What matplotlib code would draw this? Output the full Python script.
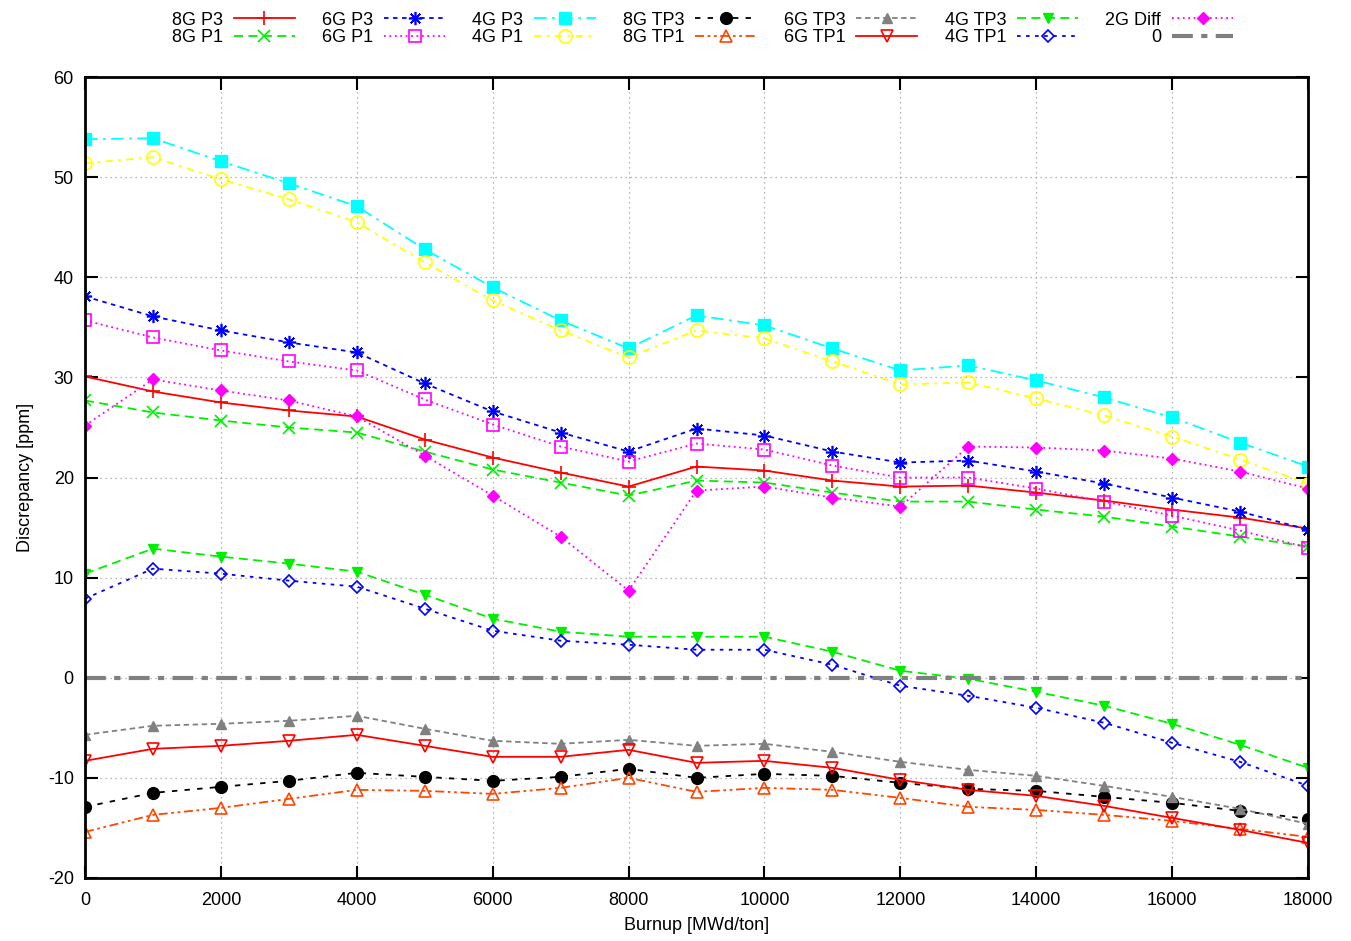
import matplotlib
matplotlib.use('Agg')
import matplotlib.pyplot as plt

plt.rcParams['font.family'] = ['Liberation Sans', 'DejaVu Sans']
plt.rcParams['axes.unicode_minus'] = False

burnup = [0, 1000, 2000, 3000, 4000, 5000, 6000, 7000, 8000, 9000,
          10000, 11000, 12000, 13000, 14000, 15000, 16000, 17000, 18000]

g8_p3 = [30.1, 28.6, 27.5, 26.7, 26.1, 23.8, 22.0, 20.5, 19.1, 21.1,
         20.7, 19.7, 19.1, 19.2, 18.5, 17.7, 16.8, 16.0, 14.9]
g8_p1 = [27.7, 26.5, 25.7, 25.0, 24.5, 22.6, 20.8, 19.5, 18.2, 19.7,
         19.5, 18.5, 17.6, 17.6, 16.8, 16.1, 15.1, 14.1, 13.1]
g6_p3 = [38.1, 36.1, 34.7, 33.5, 32.5, 29.4, 26.6, 24.5, 22.6, 24.9,
         24.2, 22.6, 21.5, 21.7, 20.6, 19.4, 18.0, 16.6, 14.8]
g6_p1 = [35.7, 34.0, 32.7, 31.6, 30.7, 27.8, 25.3, 23.1, 21.6, 23.4,
         22.8, 21.2, 20.0, 20.0, 18.9, 17.6, 16.2, 14.7, 13.0]
g4_p3 = [53.8, 53.9, 51.6, 49.4, 47.1, 42.8, 39.0, 35.7, 32.9, 36.2,
         35.2, 32.9, 30.7, 31.2, 29.7, 28.0, 26.0, 23.5, 21.1]
g4_p1 = [51.4, 52.0, 49.8, 47.8, 45.5, 41.5, 37.7, 34.7, 32.0, 34.7,
         33.9, 31.6, 29.3, 29.5, 27.9, 26.2, 24.1, 21.8, 19.4]
g8_tp3 = [-12.9, -11.5, -10.9, -10.3, -9.5, -9.9, -10.3, -9.9, -9.1, -10.0,
          -9.6, -9.8, -10.5, -11.1, -11.3, -11.9, -12.5, -13.3, -14.1]
g8_tp1 = [-15.4, -13.7, -13.0, -12.1, -11.2, -11.3, -11.6, -11.0, -10.0, -11.4,
          -11.0, -11.2, -12.0, -12.9, -13.2, -13.7, -14.3, -15.1, -15.9]
g6_tp3 = [-5.7, -4.8, -4.6, -4.3, -3.8, -5.1, -6.3, -6.6, -6.2, -6.8,
          -6.6, -7.4, -8.4, -9.2, -9.8, -10.8, -11.9, -13.1, -14.6]
g6_tp1 = [-8.3, -7.1, -6.8, -6.3, -5.7, -6.8, -7.9, -7.9, -7.2, -8.5,
          -8.3, -9.0, -10.2, -11.2, -11.8, -12.8, -14.0, -15.2, -16.5]
g4_tp3 = [10.4, 12.9, 12.1, 11.4, 10.6, 8.3, 5.9, 4.6, 4.1, 4.1,
          4.1, 2.6, 0.7, -0.1, -1.4, -2.8, -4.6, -6.7, -9.0]
g4_tp1 = [7.9, 10.9, 10.4, 9.7, 9.1, 6.9, 4.7, 3.7, 3.3, 2.8,
          2.8, 1.3, -0.8, -1.8, -3.0, -4.5, -6.5, -8.4, -10.8]
g2_diff = [25.2, 29.8, 28.7, 27.7, 26.1, 22.2, 18.2, 14.1, 8.7, 18.7,
           19.1, 18.0, 17.1, 23.1, 23.0, 22.7, 21.9, 20.6, 18.9]

fig = plt.figure(figsize=(13.51, 9.41), dpi=100)
ax = fig.add_axes([0.0629, 0.067, 0.9053, 0.851])

ms = 8.5
lw = 1.3
star = (8, 2, 0)

ax.plot(burnup, g8_p3, color='#ff0000', ls='-', lw=lw, marker='+', ms=ms + 2, mew=1.2, label='8G P3')
ax.plot(burnup, g8_p1, color='#00ee00', ls=(0, (5, 3)), lw=lw, marker='x', ms=ms, mew=1.2, label='8G P1')
ax.plot(burnup, g6_p3, color='#0000ff', ls=(0, (2.5, 2.5)), lw=lw, marker=star, ms=ms + 1, mew=1.2, label='6G P3')
ax.plot(burnup, g6_p1, color='#ff00ff', ls=(0, (1, 2)), lw=lw, marker='s', ms=ms, mfc='none', mew=1.2, label='6G P1')
ax.plot(burnup, g4_p3, color='#00ffff', ls=(0, (7, 3, 1.5, 3)), lw=lw, marker='s', ms=ms, label='4G P3')
ax.plot(burnup, g4_p1, color='#ffff00', ls=(0, (4, 3, 1.5, 3)), lw=lw, marker='o', ms=ms + 1, mfc='none', mew=1.2, label='4G P1')
ax.plot(burnup, g8_tp3, color='#000000', ls=(0, (3, 4)), lw=lw, marker='o', ms=ms, label='8G TP3')
ax.plot(burnup, g8_tp1, color='#ff4500', ls=(0, (5, 2, 1.5, 2, 1.5, 2)), lw=lw, marker='^', ms=ms, mfc='none', mew=1.2, label='8G TP1')
ax.plot(burnup, g6_tp3, color='#808080', ls=(0, (3, 2)), lw=lw, marker='^', ms=ms - 1, label='6G TP3')
ax.plot(burnup, g6_tp1, color='#ff0000', ls='-', lw=lw, marker='v', ms=ms, mfc='none', mew=1.2, label='6G TP1')
ax.plot(burnup, g4_tp3, color='#00ee00', ls=(0, (5, 3)), lw=lw, marker='v', ms=ms - 1, label='4G TP3')
ax.plot(burnup, g4_tp1, color='#0000ff', ls=(0, (2, 3)), lw=lw, marker='D', ms=ms - 2, mfc='none', mew=1.2, label='4G TP1')
ax.plot(burnup, g2_diff, color='#ff00ff', ls=(0, (1, 2)), lw=lw, marker='D', ms=ms - 2, label='2G Diff')
ax.axhline(0, color='#808080', ls=(0, (5, 2, 1.5, 2)), lw=3, label='0')

ax.set_xlim(0, 18000)
ax.set_ylim(-20, 60)
ax.set_xticks(range(0, 18001, 2000))
ax.set_yticks(range(-20, 61, 10))
ax.grid(True, color='#a0a0a0', ls=(0, (1, 3)), lw=0.9)
ax.tick_params(direction='in', length=9, width=1.5, top=True, right=True, labelsize=13)
ax.tick_params(axis='x', pad=10)
ax.tick_params(axis='y', pad=8)
for s in ax.spines.values():
    s.set_linewidth(2)

ax.set_xlabel('Burnup [MWd/ton]', fontsize=13, labelpad=6)
ax.set_ylabel('Discrepancy [ppm]', fontsize=13, labelpad=10)

fig.legend(loc='upper center', bbox_to_anchor=(0.52, 1.005), ncol=7, frameon=False,
           markerfirst=False, fontsize=13, handlelength=3.4, columnspacing=1.5,
           labelspacing=0.05, handletextpad=0.6)

fig.savefig('out.png', dpi=100)
